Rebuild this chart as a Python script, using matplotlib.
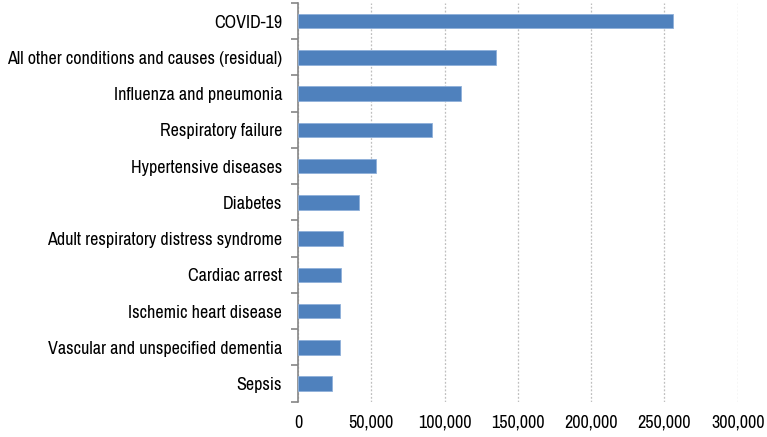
import numpy as np
import matplotlib
matplotlib.use('Agg')
import matplotlib.pyplot as plt
from matplotlib.ticker import FuncFormatter, FixedLocator

plt.rcParams['font.family'] = ['Archivo Narrow', 'Roboto Condensed', 'DejaVu Sans']

#data
causes = ['COVID-19',
          'All other conditions and causes (residual)',
          'Influenza and pneumonia',
          'Respiratory failure',
          'Hypertensive diseases',
          'Diabetes',
          'Adult respiratory distress syndrome',
          'Cardiac arrest',
          'Ischemic heart disease',
          'Vascular and unspecified dementia',
          'Sepsis']
deaths = [255600, 134800, 111100, 91100, 53500, 41500, 30500, 29600, 28700, 28700, 23200]
xticks = [0, 50000, 100000, 150000, 200000, 250000, 300000]

fig = plt.figure(figsize=(7.67, 4.37), dpi=100)
ax = fig.add_axes([298/767, 1-401.7/437, (737.7-298)/767, (401.7-3)/437])

y = np.arange(len(causes))
ax.barh(y, deaths, height=0.4, color='#4F81BD', edgecolor='#8FB0DA', linewidth=0.6, zorder=3)

ax.set_xlim(0, 300000)
ax.set_ylim(len(causes)-0.5, -0.5)
ax.set_xticks(xticks)
ax.xaxis.set_major_formatter(FuncFormatter(lambda v, p: '{:,}'.format(int(v))))
ax.set_yticks(y)
ax.set_yticklabels(causes)
ax.yaxis.set_minor_locator(FixedLocator(np.arange(-0.5, len(causes), 1.0)))

ax.grid(axis='x', color='#BFBFBF', linestyle=(0, (1.5, 1.5)), linewidth=0.9, zorder=0)
for s in ['top', 'right', 'bottom']:
    ax.spines[s].set_visible(False)
ax.spines['left'].set_color('#868686')
ax.spines['left'].set_linewidth(1.2)

ax.tick_params(axis='x', length=0, pad=9.5, labelsize=13, colors='black')
ax.tick_params(axis='y', which='major', length=0, pad=11.5, labelsize=13)
ax.tick_params(axis='y', which='minor', length=5, width=1.2, color='#868686')

plt.savefig('out.png', dpi=100)
